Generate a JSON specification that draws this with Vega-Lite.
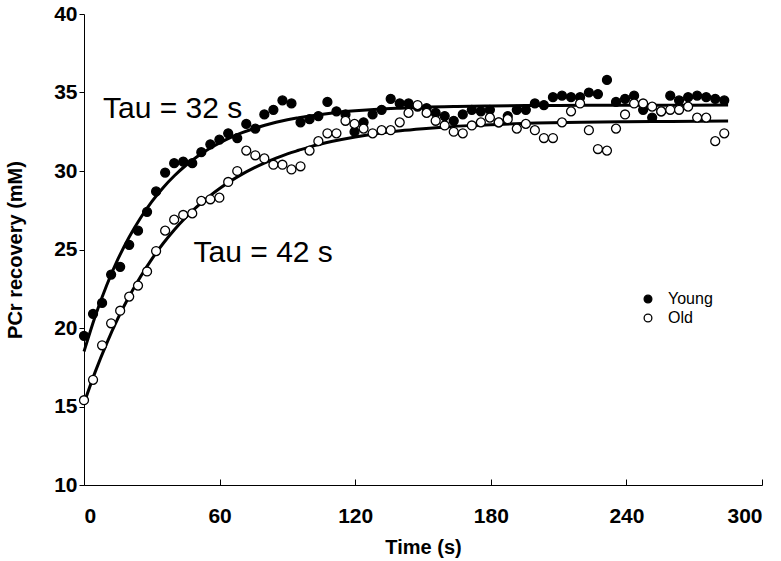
{
  "$schema": "https://vega.github.io/schema/vega-lite/v6.json",
  "width": 678,
  "height": 471,
  "autosize": {"type": "none"},
  "padding": {"left": 84, "top": 14, "right": 19, "bottom": 76},
  "background": "white",
  "config": {
    "view": {"stroke": null},
    "axis": {
      "grid": false,
      "domainColor": "black",
      "domainWidth": 1,
      "tickColor": "black",
      "tickWidth": 1,
      "labelFont": "Liberation Sans",
      "labelFontWeight": "bold",
      "labelFontSize": 21,
      "labelColor": "black",
      "titleFont": "Liberation Sans",
      "titleFontWeight": "bold",
      "titleFontSize": 20,
      "titleColor": "black"
    }
  },
  "datasets": {
    "pts": [
      {"t": 0, "y": 19.5, "group": "Young"},
      {"t": 4.0, "y": 20.9, "group": "Young"},
      {"t": 8.0, "y": 21.6, "group": "Young"},
      {"t": 12.0, "y": 23.4, "group": "Young"},
      {"t": 16.0, "y": 23.9, "group": "Young"},
      {"t": 20.0, "y": 25.3, "group": "Young"},
      {"t": 23.9, "y": 26.2, "group": "Young"},
      {"t": 27.9, "y": 27.4, "group": "Young"},
      {"t": 31.9, "y": 28.7, "group": "Young"},
      {"t": 35.9, "y": 29.9, "group": "Young"},
      {"t": 39.9, "y": 30.5, "group": "Young"},
      {"t": 43.9, "y": 30.6, "group": "Young"},
      {"t": 47.9, "y": 30.5, "group": "Young"},
      {"t": 51.9, "y": 31.2, "group": "Young"},
      {"t": 55.9, "y": 31.7, "group": "Young"},
      {"t": 59.9, "y": 32.0, "group": "Young"},
      {"t": 63.8, "y": 32.4, "group": "Young"},
      {"t": 67.8, "y": 32.1, "group": "Young"},
      {"t": 71.8, "y": 33.0, "group": "Young"},
      {"t": 75.8, "y": 32.7, "group": "Young"},
      {"t": 79.8, "y": 33.6, "group": "Young"},
      {"t": 83.8, "y": 33.9, "group": "Young"},
      {"t": 87.8, "y": 34.5, "group": "Young"},
      {"t": 91.8, "y": 34.3, "group": "Young"},
      {"t": 95.8, "y": 33.1, "group": "Young"},
      {"t": 99.8, "y": 33.3, "group": "Young"},
      {"t": 103.7, "y": 33.5, "group": "Young"},
      {"t": 107.7, "y": 34.4, "group": "Young"},
      {"t": 111.7, "y": 33.8, "group": "Young"},
      {"t": 115.7, "y": 33.6, "group": "Young"},
      {"t": 119.7, "y": 32.5, "group": "Young"},
      {"t": 123.7, "y": 33.1, "group": "Young"},
      {"t": 127.7, "y": 33.6, "group": "Young"},
      {"t": 131.7, "y": 33.9, "group": "Young"},
      {"t": 135.7, "y": 34.6, "group": "Young"},
      {"t": 139.7, "y": 34.3, "group": "Young"},
      {"t": 143.6, "y": 34.3, "group": "Young"},
      {"t": 147.6, "y": 34.1, "group": "Young"},
      {"t": 151.6, "y": 34.0, "group": "Young"},
      {"t": 155.6, "y": 33.7, "group": "Young"},
      {"t": 159.6, "y": 33.5, "group": "Young"},
      {"t": 163.6, "y": 33.2, "group": "Young"},
      {"t": 167.6, "y": 33.6, "group": "Young"},
      {"t": 171.6, "y": 33.9, "group": "Young"},
      {"t": 175.6, "y": 33.8, "group": "Young"},
      {"t": 179.6, "y": 33.9, "group": "Young"},
      {"t": 183.5, "y": 33.1, "group": "Young"},
      {"t": 187.5, "y": 33.5, "group": "Young"},
      {"t": 191.5, "y": 33.9, "group": "Young"},
      {"t": 195.5, "y": 33.9, "group": "Young"},
      {"t": 199.5, "y": 34.3, "group": "Young"},
      {"t": 203.5, "y": 34.2, "group": "Young"},
      {"t": 207.5, "y": 34.7, "group": "Young"},
      {"t": 211.5, "y": 34.8, "group": "Young"},
      {"t": 215.5, "y": 34.7, "group": "Young"},
      {"t": 219.5, "y": 34.7, "group": "Young"},
      {"t": 223.4, "y": 35.0, "group": "Young"},
      {"t": 227.4, "y": 34.9, "group": "Young"},
      {"t": 231.4, "y": 35.8, "group": "Young"},
      {"t": 235.4, "y": 34.4, "group": "Young"},
      {"t": 239.4, "y": 34.6, "group": "Young"},
      {"t": 243.4, "y": 34.8, "group": "Young"},
      {"t": 247.4, "y": 33.9, "group": "Young"},
      {"t": 251.4, "y": 33.4, "group": "Young"},
      {"t": 255.4, "y": 33.8, "group": "Young"},
      {"t": 259.4, "y": 34.8, "group": "Young"},
      {"t": 263.3, "y": 34.5, "group": "Young"},
      {"t": 267.3, "y": 34.7, "group": "Young"},
      {"t": 271.3, "y": 34.8, "group": "Young"},
      {"t": 275.3, "y": 34.7, "group": "Young"},
      {"t": 279.3, "y": 34.6, "group": "Young"},
      {"t": 283.3, "y": 34.5, "group": "Young"},
      {"t": 0, "y": 15.4, "group": "Old"},
      {"t": 4.0, "y": 16.7, "group": "Old"},
      {"t": 8.0, "y": 18.9, "group": "Old"},
      {"t": 12.0, "y": 20.3, "group": "Old"},
      {"t": 16.0, "y": 21.1, "group": "Old"},
      {"t": 20.0, "y": 22.0, "group": "Old"},
      {"t": 23.9, "y": 22.7, "group": "Old"},
      {"t": 27.9, "y": 23.6, "group": "Old"},
      {"t": 31.9, "y": 24.9, "group": "Old"},
      {"t": 35.9, "y": 26.2, "group": "Old"},
      {"t": 39.9, "y": 26.9, "group": "Old"},
      {"t": 43.9, "y": 27.2, "group": "Old"},
      {"t": 47.9, "y": 27.3, "group": "Old"},
      {"t": 51.9, "y": 28.1, "group": "Old"},
      {"t": 55.9, "y": 28.2, "group": "Old"},
      {"t": 59.9, "y": 28.3, "group": "Old"},
      {"t": 63.8, "y": 29.3, "group": "Old"},
      {"t": 67.8, "y": 30.0, "group": "Old"},
      {"t": 71.8, "y": 31.3, "group": "Old"},
      {"t": 75.8, "y": 31.0, "group": "Old"},
      {"t": 79.8, "y": 30.8, "group": "Old"},
      {"t": 83.8, "y": 30.4, "group": "Old"},
      {"t": 87.8, "y": 30.4, "group": "Old"},
      {"t": 91.8, "y": 30.1, "group": "Old"},
      {"t": 95.8, "y": 30.3, "group": "Old"},
      {"t": 99.8, "y": 31.3, "group": "Old"},
      {"t": 103.7, "y": 31.9, "group": "Old"},
      {"t": 107.7, "y": 32.4, "group": "Old"},
      {"t": 111.7, "y": 32.4, "group": "Old"},
      {"t": 115.7, "y": 33.2, "group": "Old"},
      {"t": 119.7, "y": 33.0, "group": "Old"},
      {"t": 123.7, "y": 32.7, "group": "Old"},
      {"t": 127.7, "y": 32.4, "group": "Old"},
      {"t": 131.7, "y": 32.6, "group": "Old"},
      {"t": 135.7, "y": 32.6, "group": "Old"},
      {"t": 139.7, "y": 33.1, "group": "Old"},
      {"t": 143.6, "y": 33.7, "group": "Old"},
      {"t": 147.6, "y": 34.2, "group": "Old"},
      {"t": 151.6, "y": 33.7, "group": "Old"},
      {"t": 155.6, "y": 33.2, "group": "Old"},
      {"t": 159.6, "y": 32.9, "group": "Old"},
      {"t": 163.6, "y": 32.5, "group": "Old"},
      {"t": 167.6, "y": 32.4, "group": "Old"},
      {"t": 171.6, "y": 32.9, "group": "Old"},
      {"t": 175.6, "y": 33.1, "group": "Old"},
      {"t": 179.6, "y": 33.4, "group": "Old"},
      {"t": 183.5, "y": 33.1, "group": "Old"},
      {"t": 187.5, "y": 33.3, "group": "Old"},
      {"t": 191.5, "y": 32.7, "group": "Old"},
      {"t": 195.5, "y": 33.0, "group": "Old"},
      {"t": 199.5, "y": 32.6, "group": "Old"},
      {"t": 203.5, "y": 32.1, "group": "Old"},
      {"t": 207.5, "y": 32.1, "group": "Old"},
      {"t": 211.5, "y": 33.1, "group": "Old"},
      {"t": 215.5, "y": 33.8, "group": "Old"},
      {"t": 219.5, "y": 34.3, "group": "Old"},
      {"t": 223.4, "y": 32.6, "group": "Old"},
      {"t": 227.4, "y": 31.4, "group": "Old"},
      {"t": 231.4, "y": 31.3, "group": "Old"},
      {"t": 235.4, "y": 32.7, "group": "Old"},
      {"t": 239.4, "y": 33.6, "group": "Old"},
      {"t": 243.4, "y": 34.3, "group": "Old"},
      {"t": 247.4, "y": 34.3, "group": "Old"},
      {"t": 251.4, "y": 34.1, "group": "Old"},
      {"t": 255.4, "y": 33.8, "group": "Old"},
      {"t": 259.4, "y": 33.9, "group": "Old"},
      {"t": 263.3, "y": 33.9, "group": "Old"},
      {"t": 267.3, "y": 34.1, "group": "Old"},
      {"t": 271.3, "y": 33.4, "group": "Old"},
      {"t": 275.3, "y": 33.4, "group": "Old"},
      {"t": 279.3, "y": 31.9, "group": "Old"},
      {"t": 283.3, "y": 32.4, "group": "Old"}
    ],
    "fit": [
      {"t": 0, "y": 18.5, "group": "Young"},
      {"t": 5, "y": 20.77, "group": "Young"},
      {"t": 10, "y": 22.71, "group": "Young"},
      {"t": 15, "y": 24.38, "group": "Young"},
      {"t": 20, "y": 25.8, "group": "Young"},
      {"t": 25, "y": 27.01, "group": "Young"},
      {"t": 30, "y": 28.05, "group": "Young"},
      {"t": 35, "y": 28.94, "group": "Young"},
      {"t": 40, "y": 29.7, "group": "Young"},
      {"t": 45, "y": 30.35, "group": "Young"},
      {"t": 50, "y": 30.91, "group": "Young"},
      {"t": 55, "y": 31.39, "group": "Young"},
      {"t": 60, "y": 31.79, "group": "Young"},
      {"t": 65, "y": 32.14, "group": "Young"},
      {"t": 70, "y": 32.44, "group": "Young"},
      {"t": 75, "y": 32.69, "group": "Young"},
      {"t": 80, "y": 32.91, "group": "Young"},
      {"t": 85, "y": 33.1, "group": "Young"},
      {"t": 90, "y": 33.26, "group": "Young"},
      {"t": 95, "y": 33.39, "group": "Young"},
      {"t": 100, "y": 33.51, "group": "Young"},
      {"t": 110, "y": 33.7, "group": "Young"},
      {"t": 120, "y": 33.83, "group": "Young"},
      {"t": 130, "y": 33.93, "group": "Young"},
      {"t": 140, "y": 34.0, "group": "Young"},
      {"t": 150, "y": 34.06, "group": "Young"},
      {"t": 165, "y": 34.11, "group": "Young"},
      {"t": 180, "y": 34.14, "group": "Young"},
      {"t": 200, "y": 34.17, "group": "Young"},
      {"t": 220, "y": 34.18, "group": "Young"},
      {"t": 250, "y": 34.19, "group": "Young"},
      {"t": 285, "y": 34.2, "group": "Young"},
      {"t": 0, "y": 15.2, "group": "Old"},
      {"t": 5, "y": 17.22, "group": "Old"},
      {"t": 10, "y": 19.01, "group": "Old"},
      {"t": 15, "y": 20.61, "group": "Old"},
      {"t": 20, "y": 22.02, "group": "Old"},
      {"t": 25, "y": 23.27, "group": "Old"},
      {"t": 30, "y": 24.39, "group": "Old"},
      {"t": 35, "y": 25.38, "group": "Old"},
      {"t": 40, "y": 26.26, "group": "Old"},
      {"t": 45, "y": 27.04, "group": "Old"},
      {"t": 50, "y": 27.73, "group": "Old"},
      {"t": 55, "y": 28.34, "group": "Old"},
      {"t": 60, "y": 28.89, "group": "Old"},
      {"t": 65, "y": 29.37, "group": "Old"},
      {"t": 70, "y": 29.8, "group": "Old"},
      {"t": 75, "y": 30.18, "group": "Old"},
      {"t": 80, "y": 30.52, "group": "Old"},
      {"t": 85, "y": 30.82, "group": "Old"},
      {"t": 90, "y": 31.09, "group": "Old"},
      {"t": 95, "y": 31.32, "group": "Old"},
      {"t": 100, "y": 31.54, "group": "Old"},
      {"t": 110, "y": 31.89, "group": "Old"},
      {"t": 120, "y": 32.17, "group": "Old"},
      {"t": 130, "y": 32.39, "group": "Old"},
      {"t": 140, "y": 32.56, "group": "Old"},
      {"t": 150, "y": 32.69, "group": "Old"},
      {"t": 160, "y": 32.8, "group": "Old"},
      {"t": 170, "y": 32.89, "group": "Old"},
      {"t": 180, "y": 32.95, "group": "Old"},
      {"t": 200, "y": 33.05, "group": "Old"},
      {"t": 220, "y": 33.1, "group": "Old"},
      {"t": 240, "y": 33.14, "group": "Old"},
      {"t": 260, "y": 33.16, "group": "Old"},
      {"t": 285, "y": 33.18, "group": "Old"}
    ],
    "notes": [
      {"t": 8.4, "y": 33.95, "label": "Tau = 32 s"},
      {"t": 48.5, "y": 24.8, "label": "Tau = 42 s"}
    ]
  },
  "layer": [
    {
      "data": {"name": "fit"},
      "mark": {"type": "line", "color": "black", "strokeWidth": 3, "interpolate": "monotone"},
      "encoding": {
        "x": {"field": "t", "type": "quantitative", "scale": {"domain": [0, 300], "nice": false},
          "axis": {"title": "Time (s)", "values": [0, 60, 120, 180, 240, 300], "tickSize": -6, "labelPadding": 26, "titlePadding": 11}},
        "y": {"field": "y", "type": "quantitative", "scale": {"domain": [10, 40], "nice": false, "zero": false},
          "axis": {"title": "PCr recovery (mM)", "values": [10, 15, 20, 25, 30, 35, 40], "tickSize": 5, "labelPadding": 2, "titlePadding": 28}},
        "detail": {"field": "group"}
      }
    },
    {
      "data": {"name": "pts"},
      "mark": {"type": "point", "shape": "circle", "filled": true, "stroke": "black", "strokeWidth": 1.3, "size": 80, "opacity": 1},
      "encoding": {
        "x": {"field": "t", "type": "quantitative"},
        "y": {"field": "y", "type": "quantitative"},
        "fill": {"field": "group", "type": "nominal",
          "scale": {"domain": ["Young", "Old"], "range": ["black", "white"]},
          "legend": {"title": null, "orient": "none", "legendX": 556, "legendY": 277,
            "symbolType": "circle", "symbolSize": 60, "symbolStrokeColor": "black", "symbolStrokeWidth": 1.3,
            "symbolOpacity": 1,
            "labelFont": "Liberation Sans", "labelFontSize": 16, "labelColor": "black", "labelOffset": 12, "rowPadding": 3}}
      }
    },
    {
      "data": {"name": "notes"},
      "mark": {"type": "text", "align": "left", "baseline": "middle", "font": "Liberation Sans", "fontSize": 30, "color": "black"},
      "encoding": {
        "x": {"field": "t", "type": "quantitative"},
        "y": {"field": "y", "type": "quantitative"},
        "text": {"field": "label"}
      }
    }
  ]
}
